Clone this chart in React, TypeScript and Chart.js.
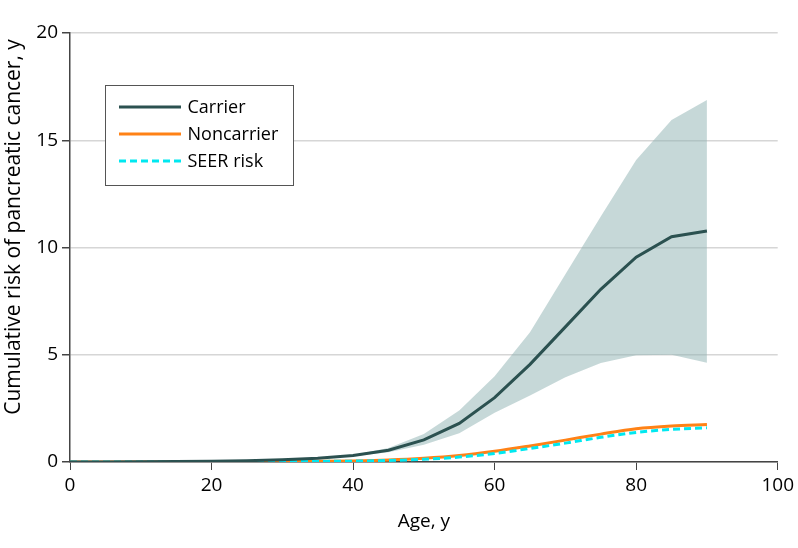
import React, { useEffect, useRef } from 'react';
import { Chart, registerables } from 'chart.js';

Chart.register(...registerables);

const ages = [0, 5, 10, 15, 20, 25, 30, 35, 40, 45, 50, 55, 60, 65, 70, 75, 80, 85, 90];
const carrier = [0, 0.005, 0.01, 0.02, 0.035, 0.06, 0.1, 0.17, 0.3, 0.55, 1.03, 1.8, 3.0, 4.55, 6.3, 8.05, 9.55, 10.5, 10.77];
const carrierUpper = [0, 0.005, 0.01, 0.02, 0.037, 0.065, 0.11, 0.19, 0.33, 0.65, 1.3, 2.4, 4.0, 6.05, 8.75, 11.45, 14.08, 15.94, 16.88];
const carrierLower = [0, 0.005, 0.01, 0.02, 0.033, 0.055, 0.09, 0.15, 0.27, 0.45, 0.8, 1.34, 2.3, 3.1, 3.95, 4.62, 4.98, 5.0, 4.63];
const noncarrier = [0, 0, 0.002, 0.004, 0.006, 0.01, 0.015, 0.03, 0.05, 0.09, 0.17, 0.3, 0.5, 0.75, 1.02, 1.3, 1.55, 1.68, 1.75];
const seer = [0, 0, 0.001, 0.002, 0.004, 0.007, 0.012, 0.025, 0.04, 0.07, 0.13, 0.23, 0.4, 0.63, 0.88, 1.15, 1.38, 1.52, 1.6];

const xTitle = 'Age, y';
const yTitle = 'Cumulative risk of pancreatic cancer, y';
const legendItems = [
  { label: 'Carrier', color: '#2b5150', dash: [] as number[] },
  { label: 'Noncarrier', color: '#ff8216', dash: [] as number[] },
  { label: 'SEER risk', color: '#00e8f0', dash: [7, 4] },
];

const FONT = "'Open Sans', sans-serif";

const toPts = (vals: number[]) => vals.map((v, i) => ({ x: ages[i], y: v }));

const overlay = {
  id: 'overlay',
  afterDraw(chart: any) {
    const { ctx, chartArea } = chart;
    ctx.save();
    // legend box
    const bx = chartArea.left + 35.5;
    const by = chartArea.top + 52.5;
    ctx.fillStyle = '#ffffff';
    ctx.fillRect(bx, by, 188, 100);
    ctx.strokeStyle = '#555555';
    ctx.lineWidth = 1;
    ctx.strokeRect(bx, by, 188, 100);
    ctx.font = `18px ${FONT}`;
    ctx.textBaseline = 'middle';
    ctx.textAlign = 'left';
    legendItems.forEach((it, i) => {
      const y = by + 21.5 + i * 27;
      ctx.beginPath();
      ctx.setLineDash(it.dash);
      ctx.strokeStyle = it.color;
      ctx.lineWidth = 3;
      ctx.moveTo(bx + 13.5, y);
      ctx.lineTo(bx + 75.5, y);
      ctx.stroke();
      ctx.setLineDash([]);
      ctx.fillStyle = '#000000';
      ctx.fillText(it.label, bx + 82, y + 1);
    });
    // axis titles
    ctx.fillStyle = '#000000';
    ctx.font = `19px ${FONT}`;
    ctx.textAlign = 'center';
    ctx.textBaseline = 'alphabetic';
    ctx.fillText(xTitle, (chartArea.left + chartArea.right) / 2, 527);
    ctx.save();
    ctx.font = `21px ${FONT}`;
    ctx.translate(20, 227);
    ctx.rotate(-Math.PI / 2);
    ctx.fillText(yTitle, 0, 0);
    ctx.restore();
    ctx.restore();
  },
};

export default function App() {
  const ref = useRef<HTMLCanvasElement>(null);
  useEffect(() => {
    document.body.style.margin = '0';
    const c = ref.current!;
    const chart = new Chart(c, {
      type: 'line',
      data: {
        datasets: [
          {
            label: 'Carrier',
            data: toPts(carrier),
            borderColor: '#2b5150',
            borderWidth: 3,
            pointRadius: 0,
            tension: 0,
            fill: false,
            order: 0,
          },
          {
            label: 'SEER risk',
            data: toPts(seer),
            borderColor: '#00e8f0',
            borderWidth: 3,
            borderDash: [7, 4],
            pointRadius: 0,
            cubicInterpolationMode: 'monotone',
            fill: false,
            order: 1,
          },
          {
            label: 'Noncarrier',
            data: toPts(noncarrier),
            borderColor: '#ff8216',
            borderWidth: 3,
            pointRadius: 0,
            cubicInterpolationMode: 'monotone',
            fill: false,
            order: 2,
          },
          {
            label: 'Upper',
            data: toPts(carrierUpper),
            borderWidth: 0,
            borderColor: 'rgba(0,0,0,0)',
            backgroundColor: 'rgba(141,177,177,0.5)',
            pointRadius: 0,
            tension: 0,
            fill: '+1',
            order: 3,
          },
          {
            label: 'Lower',
            data: toPts(carrierLower),
            borderWidth: 0,
            borderColor: 'rgba(0,0,0,0)',
            pointRadius: 0,
            tension: 0,
            fill: false,
            order: 4,
          },
        ],
      },
      options: {
        responsive: false,
        animation: false,
        layout: { padding: { top: 33, right: 18, left: 0, bottom: 0 } },
        plugins: { legend: { display: false }, tooltip: { enabled: false } },
        scales: {
          x: {
            type: 'linear',
            min: 0,
            max: 100,
            ticks: { stepSize: 20, color: '#000', font: { family: FONT, size: 19 }, padding: 4, maxRotation: 0 },
            grid: { drawOnChartArea: false, drawTicks: true, tickLength: 8, tickColor: '#444', color: '#444' },
            border: { display: true, color: '#444', width: 1.5 },
            afterFit: (s: any) => { s.height = 86; },
          },
          y: {
            min: 0,
            max: 20,
            ticks: { stepSize: 5, color: '#000', font: { family: FONT, size: 19 }, padding: 4 },
            grid: { color: '#d6d6d6', lineWidth: 1.5, tickLength: 8, tickColor: '#444' },
            border: { display: true, color: '#444', width: 1.5 },
            afterFit: (s: any) => { s.width = 70; },
          },
        },
      },
      plugins: [overlay],
    });
    return () => chart.destroy();
  }, []);
  return (
    <div style={{ width: 798, height: 548 }}>
      <canvas ref={ref} width={798} height={548} />
    </div>
  );
}
